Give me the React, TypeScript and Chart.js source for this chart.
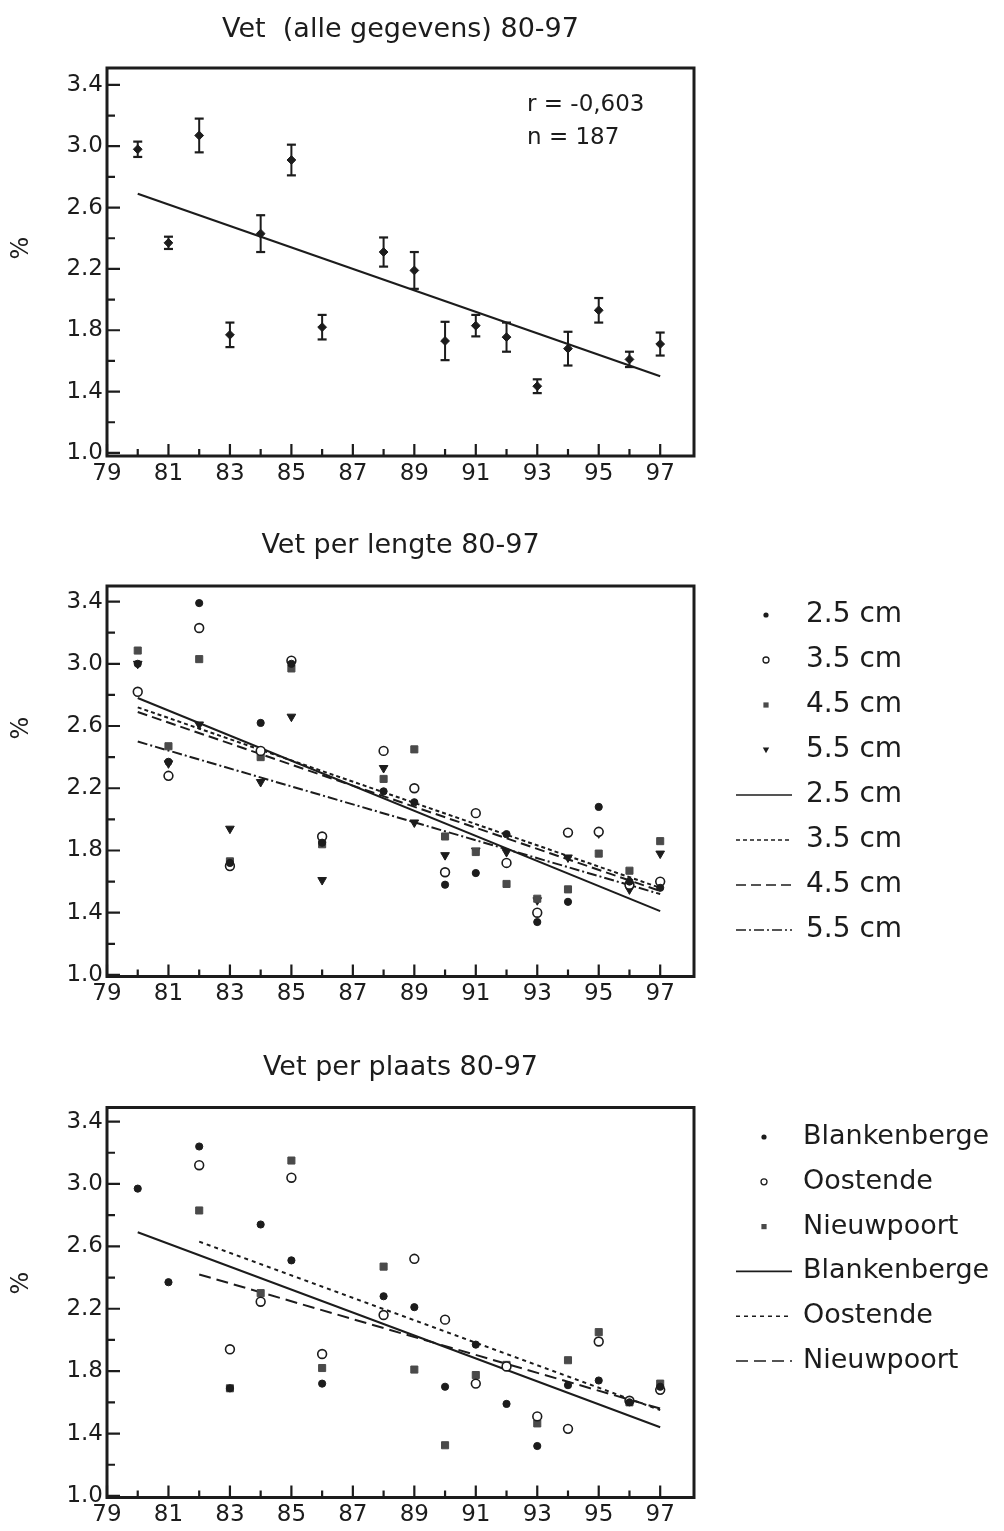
import React, { useEffect, useRef } from "react";
import { Chart, registerables } from "chart.js";

Chart.register(...registerables);

const FONT = "'DejaVu Sans', 'Liberation Sans', Arial, sans-serif";
const INK = "#1c1c1c";
const GREY = "#4a4a4a";

// ---------- shared axes ----------
const xTickYears = [79, 81, 83, 85, 87, 89, 91, 93, 95, 97];
const xMinorYears = [80, 82, 84, 86, 88, 90, 92, 94, 96];
const yTickValues = [1.0, 1.4, 1.8, 2.2, 2.6, 3.0, 3.4];
const yMinorValues = [1.2, 1.6, 2.0, 2.4, 2.8, 3.2];

// ---------- panel 1: all data ----------
const allTitle = "Vet  (alle gegevens) 80-97";
const allYears = [80, 81, 82, 83, 84, 85, 86, 88, 89, 90, 91, 92, 93, 94, 95, 96, 97];
const allMean = [2.98, 2.37, 3.07, 1.77, 2.43, 2.91, 1.82, 2.31, 2.19, 1.73, 1.83, 1.755, 1.435, 1.68, 1.93, 1.61, 1.71];
const allErr = [0.05, 0.04, 0.11, 0.08, 0.12, 0.1, 0.08, 0.095, 0.12, 0.125, 0.07, 0.095, 0.045, 0.11, 0.08, 0.05, 0.075];
const allFitYears = [80, 97];
const allFitValues = [2.69, 1.5];
const allStats = ["r = -0,603", "n = 187"];

// ---------- panel 2: per length ----------
const lengthTitle = "Vet per lengte 80-97";
const lengthLabels = ["2.5 cm", "3.5 cm", "4.5 cm", "5.5 cm"];
const lengthYears = [80, 81, 82, 83, 84, 85, 86, 88, 89, 90, 91, 92, 93, 94, 95, 96, 97];
const len25 = [3.0, 2.37, 3.39, 1.72, 2.62, 3.0, 1.85, 2.18, 2.11, 1.58, 1.655, 1.905, 1.34, 1.47, 2.08, 1.6, 1.56];
const len35 = [2.82, 2.28, 3.23, 1.7, 2.44, 3.02, 1.89, 2.44, 2.2, 1.66, 2.04, 1.72, 1.4, 1.915, 1.92, 1.58, 1.6];
const len45 = [3.085, 2.47, 3.03, 1.73, 2.4, 2.97, 1.84, 2.26, 2.45, 1.89, 1.79, 1.585, 1.49, 1.55, 1.78, 1.67, 1.86];
const len55 = [3.0, 2.36, 2.61, 1.94, 2.24, 2.66, 1.61, 2.33, 1.98, 1.77, 1.8, 1.79, 1.48, 1.755, 1.91, 1.55, 1.78];
const lenFitYears = [80, 97];
const lenFit25 = [2.78, 1.41];
const lenFit35 = [2.72, 1.56];
const lenFit45 = [2.69, 1.54];
const lenFit55 = [2.5, 1.52];

// ---------- panel 3: per place ----------
const placeTitle = "Vet per plaats 80-97";
const placeLabels = ["Blankenberge", "Oostende", "Nieuwpoort"];
const blankYears = [80, 81, 82, 83, 84, 85, 86, 88, 89, 90, 91, 92, 93, 94, 95, 96, 97];
const blankValues = [2.97, 2.37, 3.24, 1.69, 2.74, 2.51, 1.72, 2.28, 2.21, 1.7, 1.97, 1.59, 1.32, 1.71, 1.74, 1.6, 1.7];
const oostYears = [82, 83, 84, 85, 86, 88, 89, 90, 91, 92, 93, 94, 95, 96, 97];
const oostValues = [3.12, 1.94, 2.245, 3.04, 1.91, 2.16, 2.52, 2.13, 1.72, 1.83, 1.51, 1.43, 1.99, 1.61, 1.68];
const nieuwYears = [82, 83, 84, 85, 86, 88, 89, 90, 91, 92, 93, 94, 95, 96, 97];
const nieuwValues = [2.83, 1.69, 2.3, 3.15, 1.82, 2.47, 1.81, 1.325, 1.775, 1.84, 1.465, 1.87, 2.05, 1.6, 1.72];
const blankFitYears = [80, 97];
const blankFit = [2.69, 1.44];
const oostFitYears = [82, 97];
const oostFit = [2.63, 1.55];
const nieuwFitYears = [82, 97];
const nieuwFit = [2.42, 1.56];

// ---------- helpers ----------
const xy = (xs: number[], ys: number[]) => xs.map((x, i) => ({ x, y: ys[i] }));

type Marker = "dot" | "open" | "square" | "tri";

function markerDataset(label: string, data: any[], m: Marker) {
  const base: any = { label, data, showLine: false, pointBorderColor: INK, pointBorderWidth: 1 };
  if (m === "dot") return { ...base, pointStyle: "circle", pointRadius: 3.6, pointBackgroundColor: INK, marker: m };
  if (m === "open")
    return { ...base, pointStyle: "circle", pointRadius: 4.4, pointBackgroundColor: "#ffffff", pointBorderWidth: 1.6, marker: m };
  if (m === "square")
    return { ...base, pointStyle: "rect", pointRadius: 5, pointBackgroundColor: GREY, pointBorderColor: GREY, marker: m };
  return { ...base, pointStyle: "triangle", pointRotation: 180, pointRadius: 5, pointBackgroundColor: INK, marker: m };
}

function lineDataset(label: string, data: any[], dash: number[]) {
  return {
    label,
    data,
    showLine: true,
    borderColor: INK,
    borderWidth: 2,
    borderDash: dash,
    pointRadius: 0,
    fill: false,
    isLine: true,
  };
}

type LegendCfg = { top: number; gap: number; markerX: number; lineX0: number; lineX1: number; textX: number; fontSize: number };
type Decor = {
  title: string;
  titleY: number;
  pctY: number;
  stats?: string[];
  statsX?: number;
  statsY?: number;
  statsGap?: number;
  legend?: LegendCfg;
};

function drawMarker(ctx: CanvasRenderingContext2D, m: Marker, x: number, y: number) {
  ctx.save();
  ctx.lineWidth = 1.3;
  ctx.strokeStyle = INK;
  ctx.setLineDash([]);
  ctx.beginPath();
  if (m === "dot") {
    ctx.fillStyle = INK;
    ctx.arc(x, y, 2.6, 0, Math.PI * 2);
    ctx.fill();
  } else if (m === "open") {
    ctx.fillStyle = "#fff";
    ctx.arc(x, y, 3, 0, Math.PI * 2);
    ctx.fill();
    ctx.stroke();
  } else if (m === "square") {
    ctx.fillStyle = GREY;
    ctx.fillRect(x - 2.6, y - 2.6, 5.2, 5.2);
  } else {
    ctx.fillStyle = INK;
    ctx.moveTo(x - 3.2, y - 2.4);
    ctx.lineTo(x + 3.2, y - 2.4);
    ctx.lineTo(x, y + 3.2);
    ctx.closePath();
    ctx.fill();
  }
  ctx.restore();
}

function makeDecor(d: Decor) {
  return {
    id: "decor",
    afterDraw(chart: any) {
      const { ctx, chartArea: a } = chart;
      const xs = chart.scales.x;
      const ys = chart.scales.y;
      ctx.save();
      ctx.strokeStyle = INK;
      ctx.fillStyle = INK;
      // inner ticks
      ctx.lineWidth = 2.2;
      ctx.beginPath();
      for (const v of yTickValues) {
        const p = ys.getPixelForValue(v);
        ctx.moveTo(a.left, p);
        ctx.lineTo(a.left + 13, p);
      }
      for (const v of yMinorValues) {
        const p = ys.getPixelForValue(v);
        ctx.moveTo(a.left, p);
        ctx.lineTo(a.left + 8, p);
      }
      for (const v of xTickYears) {
        const p = xs.getPixelForValue(v);
        ctx.moveTo(p, a.bottom);
        ctx.lineTo(p, a.bottom - 12);
      }
      for (const v of xMinorYears) {
        const p = xs.getPixelForValue(v);
        ctx.moveTo(p, a.bottom);
        ctx.lineTo(p, a.bottom - 7);
      }
      ctx.stroke();
      // frame
      ctx.lineWidth = 3;
      ctx.strokeRect(a.left, a.top, a.right - a.left, a.bottom - a.top);
      // title
      ctx.font = `27px ${FONT}`;
      ctx.textAlign = "center";
      ctx.textBaseline = "alphabetic";
      ctx.fillText(d.title, (a.left + a.right) / 2, d.titleY);
      // % axis label
      ctx.save();
      ctx.translate(22, d.pctY);
      ctx.rotate(-Math.PI / 2);
      ctx.font = `24px ${FONT}`;
      ctx.textAlign = "center";
      ctx.textBaseline = "middle";
      ctx.fillText("%", 0, 0);
      ctx.restore();
      // stats
      if (d.stats) {
        ctx.font = `23px ${FONT}`;
        ctx.textAlign = "left";
        ctx.textBaseline = "middle";
        d.stats.forEach((s, i) => ctx.fillText(s, d.statsX!, d.statsY! + i * d.statsGap!));
      }
      // legend
      if (d.legend) {
        const L = d.legend;
        const items = chart.data.datasets.filter((ds: any) => ds.label);
        items.forEach((ds: any, i: number) => {
          const cy = L.top + i * L.gap;
          if (ds.isLine) {
            ctx.save();
            ctx.lineWidth = 1.6;
            ctx.setLineDash(ds.borderDash || []);
            ctx.beginPath();
            ctx.moveTo(L.lineX0, cy);
            ctx.lineTo(L.lineX1, cy);
            ctx.stroke();
            ctx.restore();
          } else {
            drawMarker(ctx, ds.marker, L.markerX, cy);
          }
          ctx.font = `${L.fontSize}px ${FONT}`;
          ctx.textAlign = "left";
          ctx.textBaseline = "middle";
          ctx.fillText(ds.label, L.textX, cy);
        });
      }
      ctx.restore();
    },
  };
}

function makeScales(yMin: number, yMax: number) {
  return {
    x: {
      type: "linear",
      min: 79,
      max: 98.1,
      grid: { display: false, drawTicks: false },
      border: { display: false },
      ticks: {
        font: { family: FONT, size: 23 },
        color: INK,
        padding: 4,
        autoSkip: false,
        maxRotation: 0,
        callback: (v: any) => String(v),
      },
      afterBuildTicks: (s: any) => {
        s.ticks = xTickYears.map((v) => ({ value: v }));
      },
      afterFit: (s: any) => {
        s.height = 30;
      },
    },
    y: {
      type: "linear",
      min: yMin,
      max: yMax,
      grid: { display: false, drawTicks: false },
      border: { display: false },
      ticks: {
        font: { family: FONT, size: 23 },
        color: INK,
        padding: 4,
        autoSkip: false,
        callback: (v: any) => Number(v).toFixed(1),
      },
      afterBuildTicks: (s: any) => {
        s.ticks = yTickValues.map((v) => ({ value: v }));
      },
      afterFit: (s: any) => {
        s.width = 107;
      },
    },
  };
}

function baseOptions(yMin: number, yMax: number, top: number, bottom: number) {
  return {
    responsive: false,
    animation: false,
    events: [],
    layout: { padding: { left: 0, right: 310, top, bottom } },
    plugins: { legend: { display: false }, tooltip: { enabled: false }, title: { display: false } },
    scales: makeScales(yMin, yMax),
  };
}

// ---------- configs ----------
function panel1Config() {
  const errPoints = allYears.flatMap((yr, i) => [
    { x: yr, y: allMean[i] - allErr[i] },
    { x: yr, y: allMean[i] + allErr[i] },
    { x: yr, y: null },
  ]);
  return {
    type: "line",
    data: {
      datasets: [
        {
          label: "",
          data: xy(allYears, allMean),
          showLine: false,
          pointStyle: "rectRot",
          pointRadius: 4.4,
          pointBackgroundColor: INK,
          pointBorderColor: INK,
          pointBorderWidth: 1,
        },
        {
          label: "",
          data: errPoints,
          showLine: true,
          spanGaps: false,
          borderColor: INK,
          borderWidth: 2,
          pointStyle: "line",
          pointRadius: 4.5,
          pointBorderWidth: 2.2,
          pointBorderColor: INK,
        },
        { ...lineDataset("", xy(allFitYears, allFitValues), []), borderWidth: 2.2 },
      ],
    },
    options: baseOptions(0.98, 3.51, 68, 19),
    plugins: [makeDecor({ title: allTitle, titleY: 37, pctY: 248, stats: allStats, statsX: 527, statsY: 105, statsGap: 33 })],
  };
}

function panel2Config() {
  return {
    type: "line",
    data: {
      datasets: [
        markerDataset(lengthLabels[0], xy(lengthYears, len25), "dot"),
        markerDataset(lengthLabels[1], xy(lengthYears, len35), "open"),
        markerDataset(lengthLabels[2], xy(lengthYears, len45), "square"),
        markerDataset(lengthLabels[3], xy(lengthYears, len55), "tri"),
        lineDataset(lengthLabels[0], xy(lenFitYears, lenFit25), []),
        lineDataset(lengthLabels[1], xy(lenFitYears, lenFit35), [4, 3]),
        lineDataset(lengthLabels[2], xy(lenFitYears, lenFit45), [10, 5]),
        lineDataset(lengthLabels[3], xy(lenFitYears, lenFit55), [10, 3, 2, 3]),
      ],
    },
    options: baseOptions(0.99, 3.5, 81, 18.5),
    plugins: [
      makeDecor({
        title: lengthTitle,
        titleY: 48,
        pctY: 223,
        legend: { top: 110, gap: 45, markerX: 766, lineX0: 736, lineX1: 792, textX: 806, fontSize: 28 },
      }),
    ],
  };
}

function panel3Config() {
  return {
    type: "line",
    data: {
      datasets: [
        markerDataset(placeLabels[0], xy(blankYears, blankValues), "dot"),
        markerDataset(placeLabels[1], xy(oostYears, oostValues), "open"),
        markerDataset(placeLabels[2], xy(nieuwYears, nieuwValues), "square"),
        lineDataset(placeLabels[0], xy(blankFitYears, blankFit), []),
        lineDataset(placeLabels[1], xy(oostFitYears, oostFit), [4, 4]),
        lineDataset(placeLabels[2], xy(nieuwFitYears, nieuwFit), [12, 6]),
      ],
    },
    options: baseOptions(0.99, 3.49, 82.5, 3.5),
    plugins: [
      makeDecor({
        title: placeTitle,
        titleY: 50,
        pctY: 258,
        legend: { top: 112, gap: 44.8, markerX: 764, lineX0: 736, lineX1: 792, textX: 803, fontSize: 27 },
      }),
    ],
  };
}

function Panel({ make, top, height }: { make: () => any; top: number; height: number }) {
  const ref = useRef<HTMLCanvasElement | null>(null);
  useEffect(() => {
    if (!ref.current) return;
    const chart = new Chart(ref.current, make());
    return () => chart.destroy();
  }, [make]);
  return (
    <canvas
      ref={ref}
      width={1004}
      height={height}
      style={{ position: "absolute", left: 0, top, width: 1004, height, display: "block" }}
    />
  );
}

export default function App() {
  return (
    <div style={{ position: "absolute", left: 0, top: 0, width: 1004, height: 1531, background: "#ffffff" }}>
      <Panel make={panel1Config} top={0} height={505} />
      <Panel make={panel2Config} top={505} height={520} />
      <Panel make={panel3Config} top={1025} height={506} />
    </div>
  );
}
